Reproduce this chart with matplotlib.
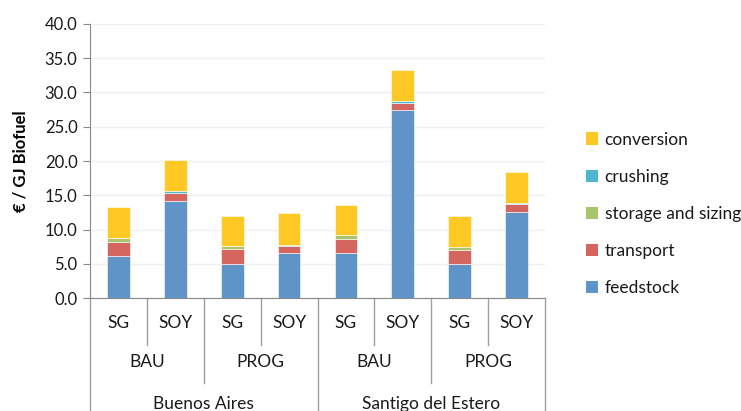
import matplotlib.pyplot as plt
from matplotlib.lines import Line2D
from matplotlib.patches import Patch

plt.rcParams['font.family'] = ['Lato', 'DejaVu Sans']

crops = ["SG", "SOY", "SG", "SOY", "SG", "SOY", "SG", "SOY"]
scenarios = ["BAU", "PROG", "BAU", "PROG"]
regions = ["Buenos Aires", "Santigo del Estero"]

feedstock = [6.1, 14.2, 4.9, 6.5, 6.5, 27.4, 4.9, 12.5]
transport = [2.1, 1.2, 2.2, 1.15, 2.1, 1.1, 2.1, 1.15]
storage = [0.6, 0.0, 0.5, 0.0, 0.6, 0.0, 0.5, 0.0]
crushing = [0.0, 0.2, 0.0, 0.15, 0.0, 0.25, 0.0, 0.15]
conversion = [4.5, 4.55, 4.4, 4.65, 4.4, 4.6, 4.5, 4.6]

series = [
    ("feedstock", feedstock, "#5F94C9"),
    ("transport", transport, "#D4665F"),
    ("storage and sizing", storage, "#A8C46C"),
    ("crushing", crushing, "#4DB6CF"),
    ("conversion", conversion, "#FFC925"),
]

W, H = 741, 411
fig = plt.figure(figsize=(W / 100, H / 100), dpi=100)
ax_l, ax_r, ax_t, ax_b = 90, 545, 24, 298
ax = fig.add_axes([ax_l / W, (H - ax_b) / H, (ax_r - ax_l) / W, (ax_b - ax_t) / H])

x = list(range(len(crops)))
bottom = [0.0] * len(crops)
for name, vals, col in series:
    ax.bar(x, vals, width=0.4, bottom=bottom, color=col, edgecolor="white",
           linewidth=0.4, zorder=3)
    bottom = [b + v for b, v in zip(bottom, vals)]

txt = "#1A1A1A"
ax.set_xlim(-0.5, 7.5)
ax.set_ylim(0, 40)
ax.set_yticks([i * 5 for i in range(9)])
ax.set_yticklabels([f"{i * 5:.1f}" for i in range(9)], fontsize=12, color=txt)
ax.yaxis.grid(True, color="#EFEFEF", linewidth=1, zorder=0)
ax.tick_params(axis="y", length=5, color="#888888", pad=4)
ax.set_xticks([])
for s in ["top", "right"]:
    ax.spines[s].set_visible(False)
ax.spines["left"].set_color("#888888")
ax.spines["bottom"].set_color("#888888")
ax.set_ylabel("€ / GJ Biofuel", fontsize=12, fontweight="bold", labelpad=12)

# multi-level category axis below the plot
def fy(px):
    return -(px - ax_b) / (ax_b - ax_t)

tr = ax.get_xaxis_transform()
for i, c in enumerate(crops):
    ax.text(i, fy(323), c, transform=tr, ha="center", va="center", fontsize=12.5,
            color=txt)
for j, s in enumerate(scenarios):
    ax.text(2 * j + 0.5, fy(362), s, transform=tr, ha="center", va="center",
            fontsize=12.5, color=txt)
for k, r in enumerate(regions):
    ax.text(4 * k + 1.5, fy(404), r, transform=tr, ha="center", va="center",
            fontsize=12.5, color=txt)

for i in range(9):
    xb = i - 0.5
    if i % 4 == 0:
        end = 420
    elif i % 2 == 0:
        end = 383
    else:
        end = 345
    ax.add_line(Line2D([xb, xb], [0, fy(end)], transform=tr, color="#A0A0A0",
                       linewidth=1, clip_on=False))

handles = [Patch(facecolor=col, label=name) for name, _, col in series][::-1]
fig.legend(handles=handles, loc="center left", bbox_to_anchor=(570 / W, (H - 214) / H),
           frameon=False, fontsize=12.5, handlelength=0.7, handleheight=0.7,
           handletextpad=0.4, labelspacing=1.22, labelcolor=txt)

fig.savefig("out.png", dpi=100)
